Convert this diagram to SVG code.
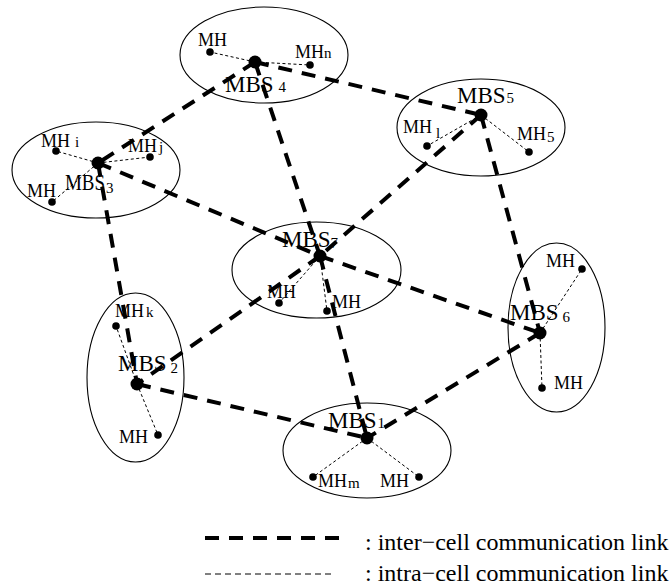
<svg xmlns="http://www.w3.org/2000/svg" width="670" height="586" viewBox="0 0 670 586">
  <style>
    .cell { fill: none; stroke: #000; stroke-width: 1.1; }
    .inter { stroke: #000; stroke-width: 4; stroke-dasharray: 14 10; fill: none; }
    .intra { stroke: #000; stroke-width: 1; stroke-dasharray: 3 2.5; fill: none; }
    .legend-intra { stroke: #000; stroke-width: 1; stroke-dasharray: 6 4; }
    .mbs { fill: #000; }
    .mh { fill: #000; }
    text { font-family: "Liberation Serif", "Times New Roman", serif; fill: #000; }
    .lb { font-size: 23px; }
    .lh { font-size: 18px; }
    .sub { font-size: 15px; }
    .leg { font-size: 24px; }
  </style>

  <!-- cells: coverage ellipse, base station and mobile hosts -->
  <g id="cell4">
    <ellipse class="cell" cx="264" cy="55" rx="84" ry="48"/>
    <g id="mbs4"><circle class="mbs" cx="255" cy="62" r="6.5"/><text class="lb" x="225" y="92">MBS<tspan class="sub" dx="5">4</tspan></text></g>
    <g id="mh4a"><circle class="mh" cx="210" cy="52" r="3.8"/><text class="lh" x="198" y="46">MH</text></g>
    <g id="mh4n"><circle class="mh" cx="310" cy="65" r="3.8"/><text class="lh" x="295" y="58">MH<tspan class="sub" dx="0">n</tspan></text></g>
  </g>

  <g id="cell5">
    <ellipse class="cell" cx="481" cy="127.5" rx="84" ry="48.5"/>
    <g id="mbs5"><circle class="mbs" cx="481" cy="115" r="6.5"/><text class="lb" x="457" y="103">MBS<tspan class="sub" dx="1">5</tspan></text></g>
    <g id="mh5l"><circle class="mh" cx="427" cy="146" r="3.8"/><text class="lh" x="403" y="133">MH<tspan class="sub" dx="4" dy="5">l</tspan></text></g>
    <g id="mh55"><circle class="mh" cx="529" cy="152" r="3.8"/><text class="lh" x="517" y="140">MH<tspan class="sub" dx="1" dy="2">5</tspan></text></g>
  </g>

  <g id="cell3">
    <ellipse class="cell" cx="96" cy="170" rx="84" ry="48"/>
    <g id="mbs3"><circle class="mbs" cx="98" cy="163" r="6.5"/><text class="lb" x="65" y="190"><tspan textLength="40" lengthAdjust="spacingAndGlyphs">MBS</tspan><tspan class="sub" dx="1" dy="3">3</tspan></text></g>
    <g id="mh3i"><circle class="mh" cx="56" cy="151" r="3.8"/><text class="lh" x="41" y="147">MH<tspan class="sub" dx="5">i</tspan></text></g>
    <g id="mh3j"><circle class="mh" cx="150" cy="157" r="3.8"/><text class="lh" x="128" y="152">MH<tspan class="sub" dx="2">j</tspan></text></g>
    <g id="mh3a"><circle class="mh" cx="52" cy="202" r="3.8"/><text class="lh" x="27" y="197">MH</text></g>
  </g>

  <g id="cell7">
    <ellipse class="cell" cx="316.5" cy="270" rx="84.5" ry="48"/>
    <g id="mbs7"><circle class="mbs" cx="320" cy="256" r="6.5"/><text class="lb" x="282" y="247">MBS<tspan class="sub" dx="0" dy="1">7</tspan></text></g>
    <g id="mh7a"><circle class="mh" cx="279" cy="303" r="3.8"/><text class="lh" x="267" y="298">MH</text></g>
    <g id="mh7b"><circle class="mh" cx="327" cy="311" r="3.8"/><text class="lh" x="332" y="308">MH</text></g>
  </g>

  <g id="cell6">
    <ellipse class="cell" cx="556.5" cy="327.5" rx="48.5" ry="84.5"/>
    <g id="mbs6"><circle class="mbs" cx="540" cy="333" r="6.5"/><text class="lb" x="510" y="320">MBS<tspan class="sub" dx="4" dy="2">6</tspan></text></g>
    <g id="mh6a"><circle class="mh" cx="582" cy="269" r="3.8"/><text class="lh" x="546" y="267">MH</text></g>
    <g id="mh6b"><circle class="mh" cx="542" cy="388" r="3.8"/><text class="lh" x="554" y="389">MH</text></g>
  </g>

  <g id="cell2">
    <ellipse class="cell" cx="135.5" cy="377.5" rx="48.5" ry="84.5"/>
    <g id="mbs2"><circle class="mbs" cx="137" cy="384" r="6.5"/><text class="lb" x="118" y="371">MBS<tspan class="sub" dx="4" dy="2">2</tspan></text></g>
    <g id="mh2k"><circle class="mh" cx="116" cy="326" r="3.8"/><text class="lh" x="115" y="317">MH<tspan class="sub" dx="2">k</tspan></text></g>
    <g id="mh2a"><circle class="mh" cx="158" cy="435" r="3.8"/><text class="lh" x="119" y="443">MH</text></g>
  </g>

  <g id="cell1">
    <ellipse class="cell" cx="367" cy="450.5" rx="84" ry="47.5"/>
    <g id="mbs1"><circle class="mbs" cx="367" cy="438" r="6.5"/><text class="lb" x="328" y="428">MBS<tspan class="sub" dx="1">1</tspan></text></g>
    <g id="mh1m"><circle class="mh" cx="313" cy="477" r="3.8"/><text class="lh" x="318" y="487">MH<tspan class="sub" dx="1" dy="1">m</tspan></text></g>
    <g id="mh1a"><circle class="mh" cx="419" cy="477" r="3.8"/><text class="lh" x="380" y="487">MH</text></g>
  </g>

  <!-- links -->
  <g id="connectors">
    <!-- base station to base station -->
    <line class="inter" x1="255" y1="62" x2="98" y2="163"/>
    <line class="inter" x1="255" y1="62" x2="481" y2="115"/>
    <line class="inter" x1="255" y1="62" x2="320" y2="256"/>
    <line class="inter" x1="98" y1="163" x2="320" y2="256"/>
    <line class="inter" x1="98" y1="163" x2="137" y2="384"/>
    <line class="inter" x1="481" y1="115" x2="320" y2="256"/>
    <line class="inter" x1="481" y1="115" x2="540" y2="333"/>
    <line class="inter" x1="320" y1="256" x2="540" y2="333"/>
    <line class="inter" x1="320" y1="256" x2="367" y2="438"/>
    <line class="inter" x1="320" y1="256" x2="137" y2="384"/>
    <line class="inter" x1="137" y1="384" x2="367" y2="438"/>
    <line class="inter" x1="540" y1="333" x2="367" y2="438"/>
    <!-- base station to its mobile hosts -->
    <line class="intra" x1="255" y1="62" x2="210" y2="52"/>
    <line class="intra" x1="255" y1="62" x2="310" y2="65"/>
    <line class="intra" x1="481" y1="115" x2="427" y2="146"/>
    <line class="intra" x1="481" y1="115" x2="529" y2="152"/>
    <line class="intra" x1="98" y1="163" x2="56" y2="151"/>
    <line class="intra" x1="98" y1="163" x2="150" y2="157"/>
    <line class="intra" x1="98" y1="163" x2="52" y2="202"/>
    <line class="intra" x1="320" y1="256" x2="279" y2="303"/>
    <line class="intra" x1="320" y1="256" x2="327" y2="311"/>
    <line class="intra" x1="540" y1="333" x2="582" y2="269"/>
    <line class="intra" x1="540" y1="333" x2="542" y2="388"/>
    <line class="intra" x1="137" y1="384" x2="116" y2="326"/>
    <line class="intra" x1="137" y1="384" x2="158" y2="435"/>
    <line class="intra" x1="367" y1="438" x2="313" y2="477"/>
    <line class="intra" x1="367" y1="438" x2="419" y2="477"/>
  </g>

  <!-- key -->
  <g id="legend">
    <line class="inter" x1="205" y1="538" x2="339" y2="538"/>
    <text class="leg" x="365" y="550">: inter−cell communication link</text>
    <line class="legend-intra" x1="205" y1="574" x2="333" y2="574"/>
    <text class="leg" x="365" y="581">: intra−cell communication link</text>
  </g>
</svg>
